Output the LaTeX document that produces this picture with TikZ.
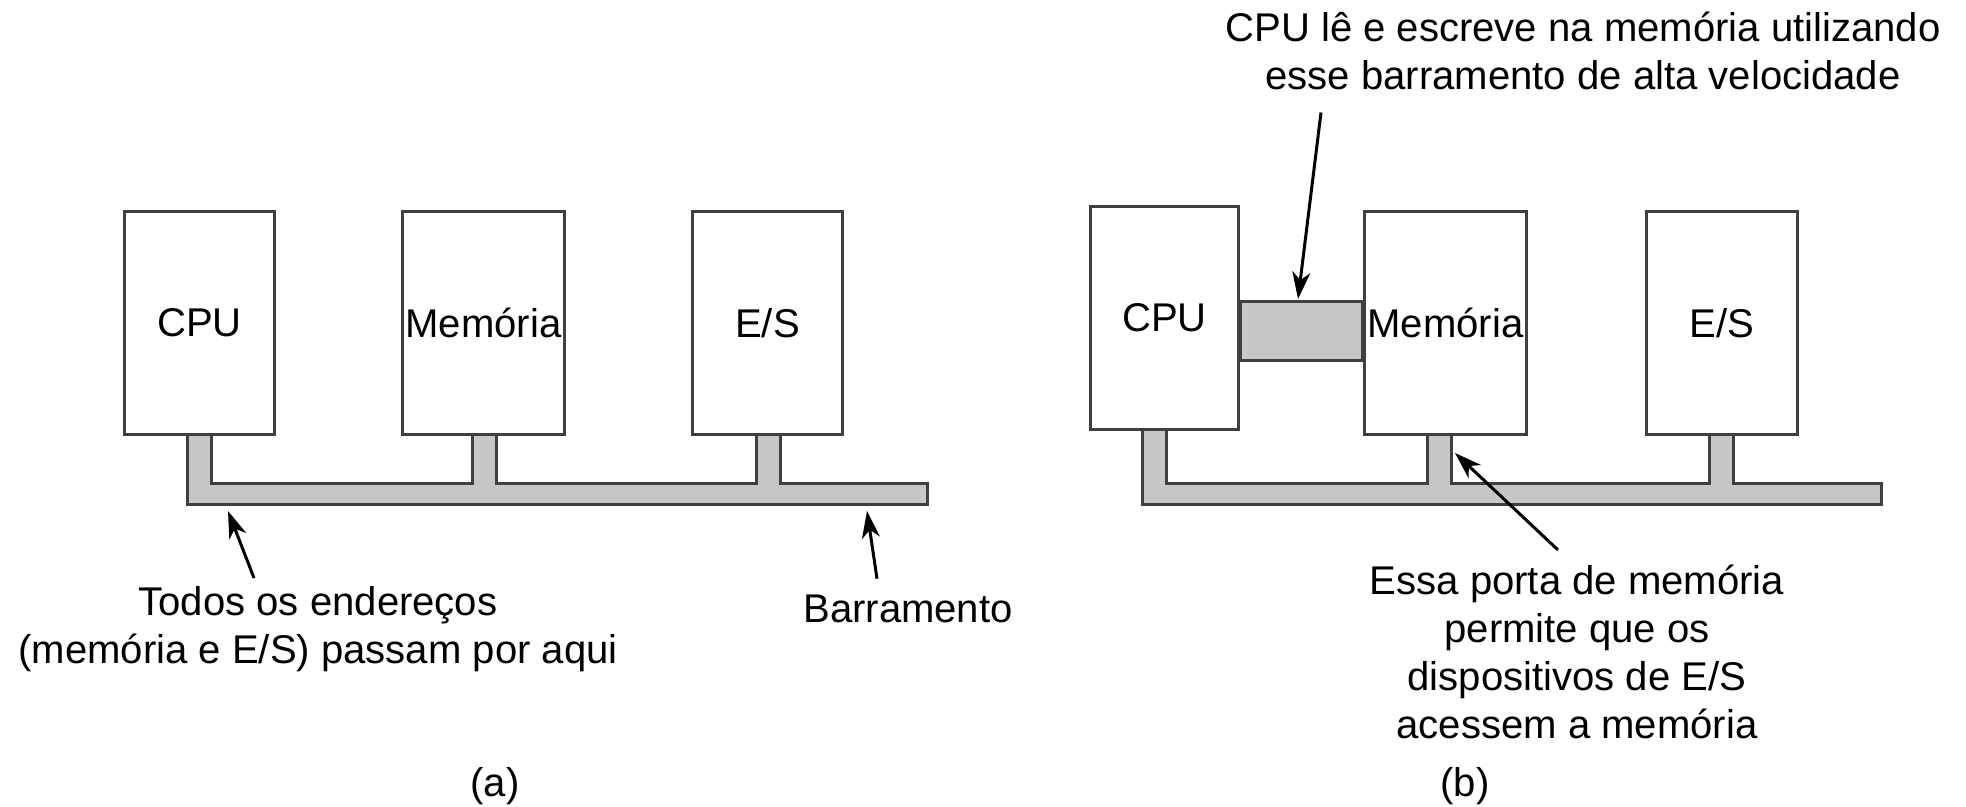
\documentclass[tikz,border=0pt]{standalone}
\usepackage{fontspec}
\setmainfont{Liberation Sans}
\usetikzlibrary{arrows.meta}
\tikzset{
 block/.style={draw=black!75,line width=0.3mm,fill=white,inner sep=0pt,minimum height=2.23cm},
 busfill/.style={draw=black!75,line width=0.3mm,fill=black!22},
 lbl/.style={align=center,inner sep=0pt},
 pointer/.style={-{Stealth[length=2.7mm,width=1.8mm,inset=0.8mm]},line width=0.3mm}
}
\begin{document}
\begin{tikzpicture}[x=0.01cm,y=-0.01cm,font=\fontsize{11.4}{13.7}\selectfont]
 \useasboundingbox (0,0) rectangle (1966,807);
 % (a) one bus for everything
 \node[block,minimum width=1.50cm] (cpuA) at (199.5,323) {CPU};
 \node[block,minimum width=1.62cm] (memA) at (483.5,323) {Memória};
 \node[block,minimum width=1.50cm] (esA) at (767.5,323) {E/S};
 \draw[busfill] (187.5,505) |- (211.5,434.5) foreach \s in {484.5,768}{|- (\s-12,484) |- (\s+12,434.5)} |- (927,484) -- (927,505) -- cycle;
 \node[lbl,anchor=north] (allAddr) at (318,586) {Todos os endereços\\(memória e E/S) passam por aqui};
 \node[lbl,anchor=base] (busName) at (908,623) {Barramento};
 \coordinate (tipA1) at (228,511); \coordinate (tipA2) at (867,511);
 \draw[pointer] ([shift={(-64,-8)}]allAddr.north) -- (tipA1);
 \draw[pointer] ([shift={(-31,-16)}]busName.north) -- (tipA2);
 \node[lbl,anchor=base] (capA) at (495,797) {(a)};
 % (b) dedicated memory bus
 \node[block,minimum width=1.48cm] (cpuB) at (1164.5,318) {CPU};
 \node[block,minimum width=1.62cm] (memB) at (1445.5,323) {Memória};
 \node[block,minimum width=1.51cm] (esB) at (1722,323) {E/S};
 \coordinate (hsTop) at (0,301.5); \coordinate (hsBot) at (0,360.5);
 \draw[busfill] (cpuB.east |- hsTop) rectangle (memB.west |- hsBot);
 \draw[busfill] (1142,505) |- (1166,429.5) foreach \s in {1439,1721.5}{|- (\s-12,484) |- (\s+12,434.5)} |- (1881,484) -- (1881,505) -- cycle;
 \node[lbl,anchor=north] (fastNote) at (1583,11) {CPU lê e escreve na memória utilizando\\esse barramento de alta velocidade};
 \node[lbl,anchor=north] (portNote) at (1577,564) {Essa porta de memória\\permite que os\\dispositivos de E/S\\acessem a memória};
 \coordinate (tipB1) at (1298,299); \coordinate (tipB2) at (1455,453);
 \draw[pointer] ([shift={(-262,22)}]fastNote.south) -- (tipB1);
 \draw[pointer] ([shift={(-19,-14)}]portNote.north) -- (tipB2);
 \node[lbl,anchor=base] (capB) at (1465,797) {(b)};
\end{tikzpicture}
\end{document}
